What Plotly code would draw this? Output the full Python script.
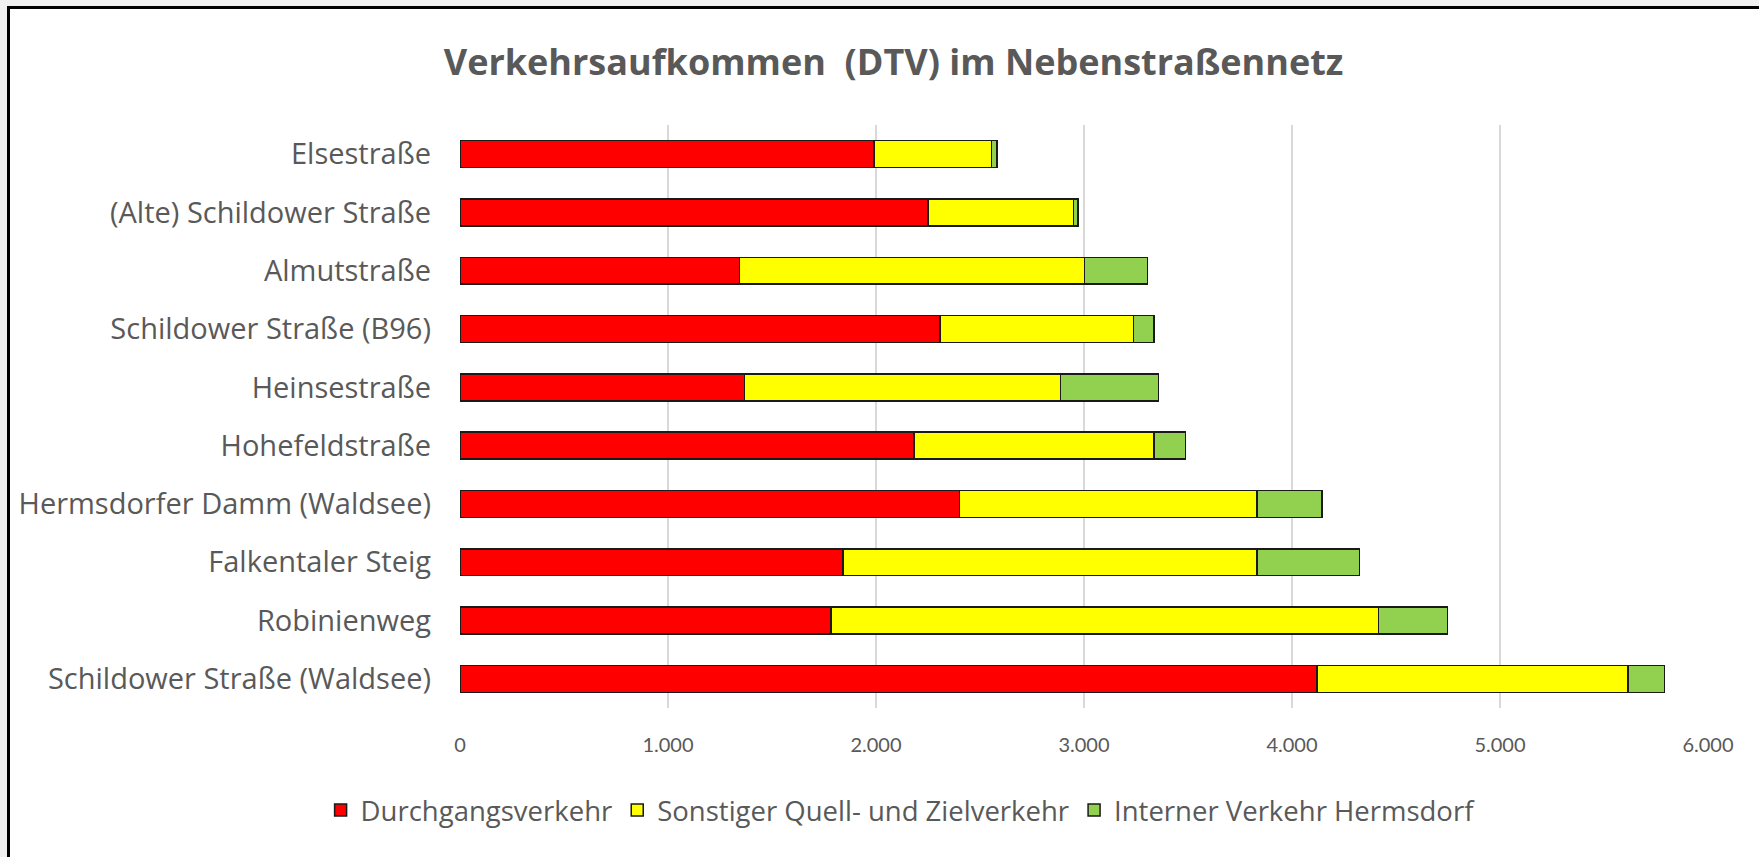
import plotly.graph_objects as go

categories = ["Elsestraße", "(Alte) Schildower Straße", "Almutstraße", "Schildower Straße (B96)",
              "Heinsestraße", "Hohefeldstraße", "Hermsdorfer Damm (Waldsee)", "Falkentaler Steig",
              "Robinienweg", "Schildower Straße (Waldsee)"]
durchgang = [1990, 2250, 1343, 2307, 1367, 2182, 2402, 1841, 1784, 4120]
quell_ziel = [565, 700, 1660, 930, 1521, 1155, 1429, 1990, 2631, 1495]
intern = [27, 20, 302, 100, 471, 152, 313, 493, 333, 176]
series_names = ["Durchgangsverkehr", "Sonstiger Quell- und Zielverkehr", "Interner Verkehr Hermsdorf"]
colors = ["#FF0000", "#FFFF00", "#92D050"]
tick_vals = [0, 1000, 2000, 3000, 4000, 5000, 6000]
tick_text = ["0", "1.000", "2.000", "3.000", "4.000", "5.000", "6.000"]

W, H = 1759, 857
ml, mr, mt, mb = 460, 51, 125, 149
pw, ph = W - ml - mr, H - mt - mb

def px(x):
    return (x - ml) / pw

def py(y):
    return 1 - (y - mt) / ph

fig = go.Figure()
for name, vals, col in zip(series_names, [durchgang, quell_ziel, intern], colors):
    fig.add_trace(go.Bar(
        y=categories, x=vals, name=name, orientation="h",
        marker=dict(color=col, line=dict(color="#1a1a1a", width=1.5)),
    ))

fig.update_layout(
    width=W, height=H,
    barmode="stack", bargap=0.54,
    paper_bgcolor="#f0f0f0", plot_bgcolor="white",
    margin=dict(l=ml, r=mr, t=mt, b=mb, autoexpand=False),
    font=dict(family="Open Sans", color="#595959"),
    title=dict(text="<b>Verkehrsaufkommen  (DTV) im Nebenstraßennetz</b>",
               x=0.508, xref="container", xanchor="center",
               y=1 - 62 / H, yref="container", yanchor="middle",
               font=dict(family="Open Sans", size=36, color="#595959")),
    xaxis=dict(range=[0, 6000], tickvals=tick_vals, ticktext=tick_text,
               showgrid=True, gridcolor="#d9d9d9", gridwidth=1.5,
               zeroline=False, showline=False, ticks="", automargin=False,
               ticklabelstandoff=23,
               tickfont=dict(family="Lato", size=20, color="#595959")),
    yaxis=dict(categoryorder="array", categoryarray=categories[::-1],
               showgrid=False, zeroline=False, showline=False, ticks="", automargin=False,
               ticklabelstandoff=28,
               tickfont=dict(family="Open Sans", size=29, color="#595959")),
    legend=dict(orientation="h", xref="container", x=0.512, xanchor="center",
                yref="container", y=1 - 810 / H, yanchor="middle",
                bgcolor="rgba(0,0,0,0)",
                font=dict(family="Open Sans", size=27.5, color="#595959"), traceorder="normal"),
    shapes=[dict(type="rect", xref="paper", yref="paper",
                 x0=px(8.5), x1=px(W + 20), y0=py(H + 20), y1=py(7.5),
                 fillcolor="white", line=dict(color="black", width=3), layer="below")],
)

post = ("document.body.style.margin='0';"
        "document.body.style.overflow='hidden';"
        "var d=document.getElementById('{plot_id}');"
        "d.style.position='absolute';d.style.left='0px';d.style.top='0px';")
fig.write_html("out.html", config={"displayModeBar": False}, post_script=post)
